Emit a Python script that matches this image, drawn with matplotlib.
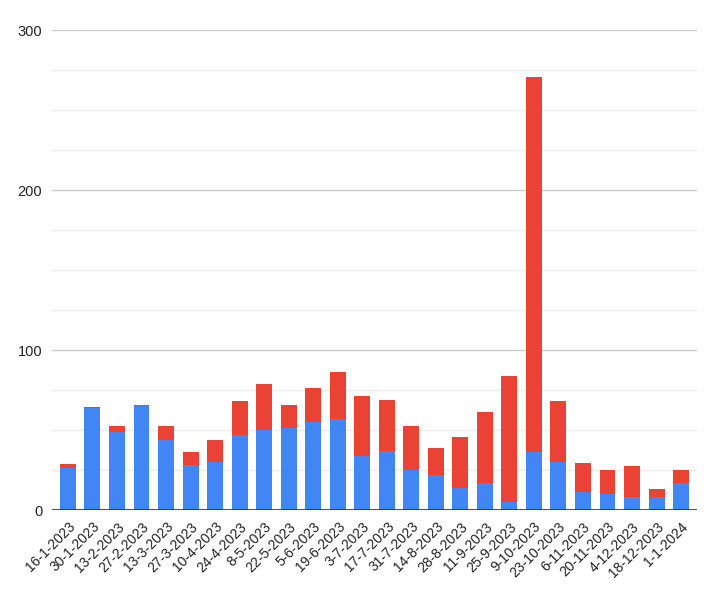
import matplotlib.pyplot as plt
from matplotlib.ticker import MultipleLocator
import numpy as np

plt.rcParams['font.family'] = ['Liberation Sans', 'DejaVu Sans']

dates = ["16-1-2023", "30-1-2023", "13-2-2023", "27-2-2023", "13-3-2023", "27-3-2023",
         "10-4-2023", "24-4-2023", "8-5-2023", "22-5-2023", "5-6-2023", "19-6-2023",
         "3-7-2023", "17-7-2023", "31-7-2023", "14-8-2023", "28-8-2023", "11-9-2023",
         "25-9-2023", "9-10-2023", "23-10-2023", "6-11-2023", "20-11-2023", "4-12-2023",
         "18-12-2023", "1-1-2024"]
blue = [26, 64, 49, 65, 44, 28, 30, 47, 50, 51, 55, 57, 34, 37, 25, 22, 14, 17,
        5, 36, 30, 11, 10, 8, 8, 17]
total = [29, 64.5, 52.5, 65.6, 52.5, 36, 44, 68, 79, 65.6, 76, 86, 71, 69, 52.3, 39, 45.4, 61,
         84, 270.5, 68, 29.6, 25, 27.3, 13.3, 25]
red = [t - b for t, b in zip(total, blue)]


def main():
    fig = plt.figure(figsize=(7.19, 6), dpi=100)
    ax = fig.add_axes([0.0723, 0.15, 0.8971, 0.80])
    x = np.arange(len(dates))
    ax.bar(x, blue, width=0.65, color="#4285F4", zorder=3)
    ax.bar(x, red, width=0.65, bottom=blue, color="#EA4335", zorder=3)

    ax.set_xlim(-0.65, len(dates) - 0.35)
    ax.set_ylim(0, 300)
    ax.yaxis.set_major_locator(MultipleLocator(100))
    ax.yaxis.set_minor_locator(MultipleLocator(25))
    ax.grid(axis='y', which='major', color="#cccccc", linewidth=1, zorder=0)
    ax.grid(axis='y', which='minor', color="#ebebeb", linewidth=1, zorder=0)
    ax.axhline(0, color="#333333", linewidth=1.2, zorder=4)

    for s in ax.spines.values():
        s.set_visible(False)
    ax.tick_params(axis='both', which='both', length=0)
    ax.tick_params(axis='y', labelsize=10.5, labelcolor="#222222", pad=7)
    ax.set_xticks(x)
    ax.set_xticklabels(dates, rotation=45, ha='right', rotation_mode='anchor',
                       fontsize=10, color="#222222")
    ax.tick_params(axis='x', pad=7)
    fig.savefig("out.png", dpi=100)


if __name__ == "__main__":
    main()
